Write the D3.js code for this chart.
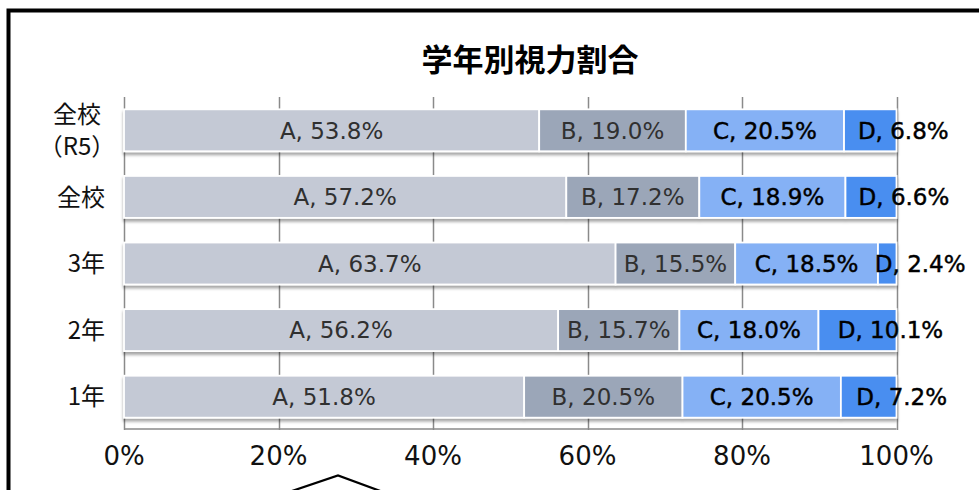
<!DOCTYPE html>
<html>
<head>
<meta charset="utf-8">
<script src="https://cdn.jsdelivr.net/npm/d3@7"></script>
<style>
  body { margin: 0; background: #fff; }
  svg { display: block; font-family: 'DejaVu Sans', 'Noto Sans CJK JP', sans-serif; }
</style>
</head>
<body>
<svg id="chart"></svg>
<script>
// Set up data
var categories = ['全校\n（R5）', '全校', '3年', '2年', '1年']
var seriesNames = ['A', 'B', 'C', 'D']
var valuesA = [53.8, 57.2, 63.7, 56.2, 51.8]
var valuesB = [19.0, 17.2, 15.5, 15.7, 20.5]
var valuesC = [20.5, 18.9, 18.5, 18.0, 20.5]
var valuesD = [6.8, 6.6, 2.4, 10.1, 7.2]
var tickLabels = ['0%', '20%', '40%', '60%', '80%', '100%']
var colors = ['#c4c9d5', '#9ba6b8', '#85b1f5', '#4a8ef0']
var textColors = ['#303030', '#303030', '#000', '#000']

// note: window.top is read-only, so the plot edges get their own names
var width = 979,
    height = 490,
    plotLeft = 124,
    plotRight = 896.5,
    plotTop = 97,
    plotBottom = 430

var svg = d3.select('#chart')
  .attr('width', width)
  .attr('height', height)

// Shadow under the bars
var filter = svg.append('defs').append('filter')
  .attr('id', 'shadow')
  .attr('x', '-5%').attr('y', '-20%')
  .attr('width', '110%').attr('height', '160%')
filter.append('feDropShadow')
  .attr('dx', 0).attr('dy', 3)
  .attr('stdDeviation', 1.8)
  .attr('flood-color', '#000')
  .attr('flood-opacity', 0.35)

// Frame around the chart area (runs off the picture)
svg.append('rect')
  .attr('x', 8.5).attr('y', 10.5)
  .attr('width', 1000).attr('height', 600)
  .attr('fill', 'none')
  .attr('stroke', '#000')
  .attr('stroke-width', 4)

// Callout outline at the bottom
svg.append('polyline')
  .attr('points', [[289, 492], [338, 475.5], [383, 492]].join(' '))
  .attr('fill', 'none')
  .attr('stroke', '#000')
  .attr('stroke-width', 2.2)

// Title
svg.append('text')
  .attr('x', 530).attr('y', 71)
  .attr('text-anchor', 'middle')
  .attr('font-family', "'Noto Sans CJK JP', sans-serif")
  .attr('font-weight', 'bold')
  .attr('font-size', 31)
  .text('学年別視力割合')

// Scales
var x = d3.scaleLinear().domain([0, 1]).range([plotLeft, plotRight])
var y = d3.scaleBand().domain(categories).range([plotTop, plotBottom])
  .paddingInner(0.37).paddingOuter(0.185)

// Grid lines
svg.append('g')
  .selectAll('line')
  .data(d3.range(0, 1.01, 0.2))
  .enter()
  .append('line')
  .attr('x1', function (d) { return Math.round(x(d)) + 0.5 })
  .attr('x2', function (d) { return Math.round(x(d)) + 0.5 })
  .attr('y1', plotTop)
  .attr('y2', plotBottom)
  .attr('stroke', '#8a8a8a')
  .attr('stroke-width', 1.5)

svg.append('line')
  .attr('x1', plotLeft).attr('x2', plotRight)
  .attr('y1', plotBottom - 1).attr('y2', plotBottom - 1)
  .attr('stroke', '#8a8a8a')
  .attr('stroke-width', 1.5)

// Stack the rows, each row normalised to 100%
var rows = categories.map(function (c, i) {
  var vals = [valuesA[i], valuesB[i], valuesC[i], valuesD[i]]
  var total = d3.sum(vals)
  var acc = 0
  return vals.map(function (v, j) {
    var seg = { cat: c, series: j, value: v, x0: acc / total, x1: (acc + v) / total }
    acc += v
    return seg
  })
})

var rowG = svg.append('g')
  .selectAll('g')
  .data(rows)
  .enter()
  .append('g')
  .attr('filter', 'url(#shadow)')

rowG.selectAll('rect')
  .data(function (d) { return d })
  .enter()
  .append('rect')
  .attr('x', function (d) { return x(d.x0) })
  .attr('width', function (d) { return x(d.x1) - x(d.x0) })
  .attr('y', function (d) { return y(d.cat) })
  .attr('height', y.bandwidth())
  .attr('fill', function (d) { return colors[d.series] })
  .attr('stroke', '#fff')
  .attr('stroke-width', 1.8)

// Data labels (D labels sit to the right, as in the original)
svg.append('g')
  .selectAll('text')
  .data(d3.merge(rows))
  .enter()
  .append('text')
  .attr('x', function (d) { return (x(d.x0) + x(d.x1)) / 2 + (d.series === 3 ? 33 : 0) })
  .attr('y', function (d) { return y(d.cat) + y.bandwidth() / 2 })
  .attr('dy', '0.36em')
  .attr('text-anchor', 'middle')
  .attr('font-size', 23)
  .attr('fill', function (d) { return textColors[d.series] })
  .attr('stroke', function (d) { return d.series > 1 ? '#000' : 'none' })
  .attr('stroke-width', 0.45)
  .text(function (d) { return seriesNames[d.series] + ', ' + d.value.toFixed(1) + '%' })

// Category labels, centred on a common block whose right side is near the axis
var catG = svg.append('g')
  .selectAll('text')
  .data(categories)
  .enter()
  .append('text')
  .attr('font-family', "'Noto Sans CJK JP', sans-serif")
  .attr('font-size', 24)
  .attr('fill', '#111')

catG.each(function (c) {
  var t = d3.select(this)
  var lines = c.split('\n')
  var yc = y(c) + y.bandwidth() / 2
  lines.forEach(function (s, i) {
    t.append('tspan')
      .attr('y', yc + (i - (lines.length - 1) / 2) * 32)
      .attr('dy', '0.36em')
      .text(s)
  })
  if (lines.length > 1) {
    t.attr('text-anchor', 'middle').selectAll('tspan').attr('x', 77)
  } else {
    t.attr('text-anchor', 'end').selectAll('tspan').attr('x', 105)
  }
})

// Tick labels
svg.append('g')
  .selectAll('text')
  .data(tickLabels)
  .enter()
  .append('text')
  .attr('x', function (d, i) { return x(i / 5) })
  .attr('y', 456)
  .attr('dy', '0.36em')
  .attr('text-anchor', 'middle')
  .attr('font-size', 26)
  .attr('fill', '#111')
  .text(function (d) { return d })
</script>
</body>
</html>
